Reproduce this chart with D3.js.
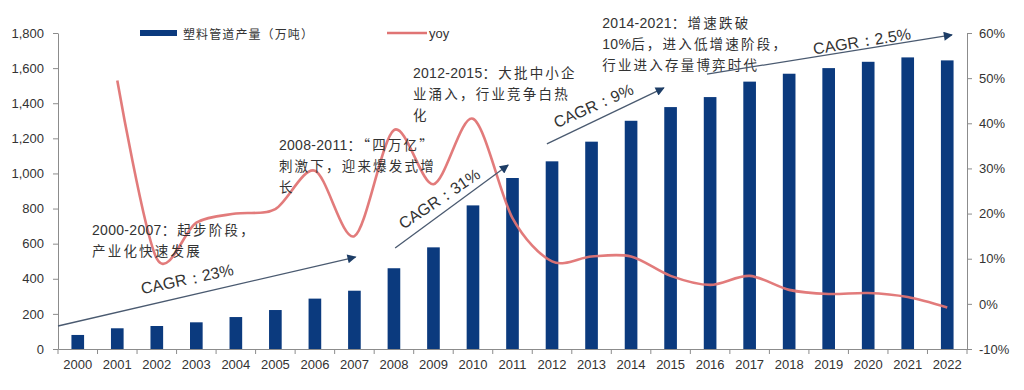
<!DOCTYPE html>
<html><head><meta charset="utf-8">
<script src="https://cdn.jsdelivr.net/npm/d3@7"></script>
<style>body{margin:0;background:#fff}</style></head>
<body><svg id="c" width="1024" height="390"></svg>
<script>
// ---- data ----
const years = ["2000","2001","2002","2003","2004","2005","2006","2007","2008","2009","2010","2011","2012","2013","2014","2015","2016","2017","2018","2019","2020","2021","2022"];
const output = [80,118,131,152,182,222,287,332,460,579,818,974,1069,1181,1300,1378,1435,1523,1568,1600,1636,1661,1644];
const yoy = [null,49.5,10,18,20,21,29.5,15,38.5,26.5,41,19,9.4,10.5,10.5,6.2,4.2,6.2,3.1,2.2,2.4,1.5,-0.8];
const leftTicks = [0,200,400,600,800,1000,1200,1400,1600,1800];
const rightTicks = [-10,0,10,20,30,40,50,60];
const legendLabels = ["塑料管道产量（万吨）","yoy"];
// annotation anchors in data space: [year, output value]
const phaseNotes = [
  {at:[2000.36, 649], lines:["2000-2007：起步阶段，","产业化快速发展"]},
  {at:[2005.09, 1133], lines:["2008-2011：“四万亿”","刺激下，迎来爆发式增","长"]},
  {at:[2008.48, 1544], lines:["2012-2015：大批中小企","业涌入，行业竞争白热","化"]},
  {at:[2013.27, 1828], lines:["2014-2021：增速跌破","10%后，进入低增速阶段，","行业进入存量博弈时代"]}
];
const cagrArrows = [
  {from:[1999.5,131], to:[2007.03,524], label:"CAGR：23%", labelAt:[2002.77,398], angle:-12},
  {from:[2008.03,575], to:[2010.89,1048], label:"CAGR：31%", labelAt:[2009.15,855], angle:-34},
  {from:[2011.87,1168], to:[2014.83,1487], label:"CAGR：9%", labelAt:[2013.05,1385], angle:-24},
  {from:[2015.92,1566], to:[2022.12,1789], label:"CAGR：2.5%", labelAt:[2019.84,1752], angle:-9}
];

// ---- layout ----
const L = 58, R = 967, T = 33, B = 349;
const svg = d3.select("#c");
const x = d3.scaleBand().domain(years).range([L,R]).paddingInner(0.68).paddingOuter(0.34);
const xc = d3.scaleLinear().domain([1999.5, 2022.5]).range([L,R]);
const yL = d3.scaleLinear().domain([0,1800]).range([B,T]);
const yR = d3.scaleLinear().domain([-10,60]).range([B,T]);
const FONT = "Liberation Sans, Arial, sans-serif";
const CJK = "'Noto Sans CJK SC', sans-serif";
const axisColor = "#8c8c8c";
const textColor = "#333";

// bars
svg.append("g").selectAll("rect").data(years).join("rect")
  .attr("x", d => x(d)).attr("width", x.bandwidth())
  .attr("y", (d,i) => yL(output[i])).attr("height", (d,i) => B - yL(output[i]))
  .attr("fill", "#0b3a7e");

// yoy line
const line = d3.line()
  .defined(d => d.v != null)
  .x(d => x(d.y) + x.bandwidth()/2)
  .y(d => yR(d.v))
  .curve(d3.curveCardinal.tension(0.1));
svg.append("path")
  .datum(years.map((y,i) => ({y, v: yoy[i]})))
  .attr("d", line).attr("fill","none")
  .attr("stroke","#e07474").attr("stroke-width",2.6).attr("stroke-opacity",0.95);

// axes
function styleAxis(g){
  g.select(".domain").attr("stroke", axisColor);
  g.selectAll(".tick line").attr("stroke", axisColor);
  g.selectAll(".tick text").attr("fill", textColor).attr("font-family", FONT).attr("font-size", 13);
}
svg.append("g").attr("transform",`translate(${L},0)`)
  .call(d3.axisLeft(yL).tickValues(leftTicks).tickFormat(d3.format(",")).tickSize(5).tickPadding(9).tickSizeOuter(0))
  .call(styleAxis);
svg.append("g").attr("transform",`translate(${R},0)`)
  .call(d3.axisRight(yR).tickValues(rightTicks).tickFormat(d => d + "%").tickSize(5).tickPadding(7).tickSizeOuter(0))
  .call(styleAxis);
const gx = svg.append("g").attr("transform",`translate(0,${B})`)
  .call(d3.axisBottom(x).tickSize(0).tickPadding(11).tickSizeOuter(0))
  .call(styleAxis);
// ticks at category boundaries
gx.selectAll("line.bnd").data(d3.range(years.length + 1)).join("line")
  .attr("class","bnd")
  .attr("x1", i => xc(1999.5 + i)).attr("x2", i => xc(1999.5 + i))
  .attr("y1", 0).attr("y2", 5).attr("stroke", axisColor);

// legend
const lg = svg.append("g");
lg.append("rect").attr("x",140).attr("y",30).attr("width",37).attr("height",6).attr("fill","#0b3a7e");
lg.append("text").attr("x",183).attr("y",33).attr("dominant-baseline","central")
  .attr("font-family",CJK).attr("font-size",12).attr("fill",textColor).attr("letter-spacing",1.1)
  .text(legendLabels[0]);
lg.append("line").attr("x1",387).attr("x2",427).attr("y1",33).attr("y2",33)
  .attr("stroke","#e07474").attr("stroke-width",2.6);
lg.append("text").attr("x",429).attr("y",33).attr("dominant-baseline","central")
  .attr("font-family",FONT).attr("font-size",13).attr("fill",textColor).text(legendLabels[1]);

// phase notes (mixed runs: latin / CJK)
function addRuns(t, str){
  const parts = str.split(/([\x00-\x7F]+)/).filter(s => s.length);
  parts.forEach(p => {
    const ascii = /^[\x00-\x7F]+$/.test(p);
    t.append("tspan").text(p)
      .attr("font-family", ascii ? FONT : CJK)
      .attr("font-size", ascii ? 14 : 13.5)
      .attr("letter-spacing", ascii ? 0.3 : 2.2);
  });
}
phaseNotes.forEach(n => {
  n.lines.forEach((ln, k) => {
    const t = svg.append("text").attr("x", xc(n.at[0])).attr("y", yL(n.at[1]) + k*21)
      .attr("fill", textColor);
    addRuns(t, ln);
  });
});

// arrows
const defs = svg.append("defs");
defs.append("marker").attr("id","ah").attr("viewBox","0 0 10 10")
  .attr("refX",9).attr("refY",5).attr("markerWidth",11).attr("markerHeight",9)
  .attr("markerUnits","userSpaceOnUse").attr("orient","auto")
  .append("path").attr("d","M0,0 L10,5 L0,10 Z").attr("fill","#1d3d66");
cagrArrows.forEach(a => {
  svg.append("line")
    .attr("x1", xc(a.from[0])).attr("y1", yL(a.from[1]))
    .attr("x2", xc(a.to[0])).attr("y2", yL(a.to[1]))
    .attr("stroke","#4a5a70").attr("stroke-width",1.3).attr("marker-end","url(#ah)");
  const cx = xc(a.labelAt[0]), cy = yL(a.labelAt[1]);
  svg.append("text").attr("transform",`translate(${cx},${cy}) rotate(${a.angle})`)
    .attr("text-anchor","middle").attr("dominant-baseline","central")
    .attr("font-family",FONT).attr("font-size",16).attr("fill",textColor)
    .text(a.label);
});
</script></body></html>
